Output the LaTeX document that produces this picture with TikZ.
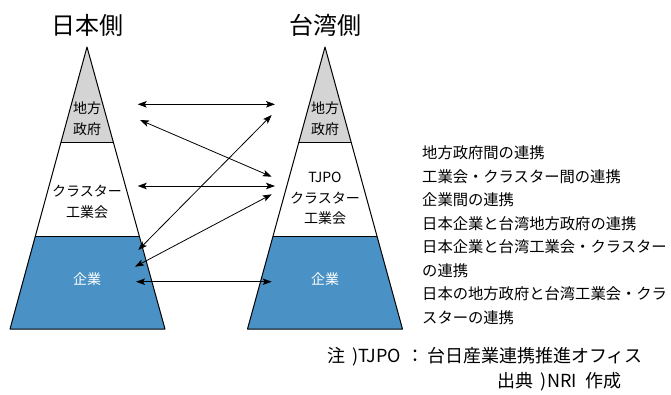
\documentclass[tikz,border=0pt]{standalone}
\usepackage{fontspec}
\setmainfont{Noto Sans CJK JP}
\usetikzlibrary{arrows.meta}
\definecolor{govgray}{RGB}{212,212,212}
\definecolor{firmblue}{RGB}{74,145,197}
\begin{document}
\begin{tikzpicture}[x=1pt,y=-1pt,
  lvl/.style={font=\fontsize{14}{21}\selectfont, align=center, inner sep=0pt},
  ttl/.style={font=\fontsize{24}{28}\selectfont, inner sep=0pt},
  leg/.style={font=\fontsize{15.3}{20}\selectfont, anchor=west, inner sep=0pt},
  note/.style={font=\fontsize{18}{20}\selectfont, anchor=east, inner sep=0pt},
  link/.style={line width=0.8pt, {Stealth[length=9pt,width=6.5pt,inset=2pt]}-{Stealth[length=9pt,width=6.5pt,inset=2pt]}},
  pyredge/.style={line width=1pt, line join=round}]
\useasboundingbox (0,0) rectangle (671,394);

% ---- left pyramid (Japan) ----
\fill[govgray] (87,47) -- (113.1,142) -- (60.9,142) -- cycle;
\fill[white] (60.9,142) -- (113.1,142) -- (138.9,236) -- (35.1,236) -- cycle;
\fill[firmblue] (35.1,236) -- (138.9,236) -- (165,329) -- (10,329) -- cycle;
\draw[pyredge] (87,47) -- (165,329) -- (10,329) -- cycle;
\draw[pyredge] (60.9,142) -- (113.1,142);
\draw[pyredge] (35.1,236) -- (138.9,236);

% ---- right pyramid (Taiwan) ----
\fill[govgray] (325,47) -- (351.1,142) -- (298.9,142) -- cycle;
\fill[white] (298.9,142) -- (351.1,142) -- (376.9,236) -- (273.1,236) -- cycle;
\fill[firmblue] (273.1,236) -- (376.9,236) -- (402.5,329) -- (247.5,329) -- cycle;
\draw[pyredge] (325,47) -- (402.5,329) -- (247.5,329) -- cycle;
\draw[pyredge] (298.9,142) -- (351.1,142);
\draw[pyredge] (273.1,236) -- (376.9,236);

% ---- titles ----
\node[ttl] (tjp) at (87,25) {日本側};
\node[ttl] (ttw) at (325,25) {台湾側};

% ---- level labels ----
\node[lvl] (jgov) at (87,118.5) {地方\\政府};
\node[lvl] (jclu) at (87,202) {クラスター\\工業会};
\node[lvl, text=white] (jfirm) at (87,279) {企業};
\node[lvl] (tgov) at (325,118.5) {地方\\政府};
\node[lvl, font=\fontsize{14}{20.5}\selectfont] (tclu) at (325,198.5) {TJPO\\クラスター\\工業会};
\node[lvl, text=white] (tfirm) at (325,279) {企業};

% ---- arrow end points ----
\coordinate (a1l) at (137.7,104.3);  \coordinate (a1r) at (275,104.3);
\coordinate (a2l) at (140,120);      \coordinate (a2r) at (271.7,176.7);
\coordinate (a3l) at (137.7,186);    \coordinate (a3r) at (275,186);
\coordinate (a4l) at (138.3,250);    \coordinate (a4r) at (271.7,115);
\coordinate (a5l) at (135,266.7);    \coordinate (a5r) at (271.7,194.3);
\coordinate (a6l) at (136,281.7);    \coordinate (a6r) at (271.7,281.7);
\draw[link] (a1l) -- (a1r);
\draw[link] (a2l) -- (a2r);
\draw[link] (a3l) -- (a3r);
\draw[link] (a4l) -- (a4r);
\draw[link] (a5l) -- (a5r);
\draw[link] (a6l) -- (a6r);

% ---- legend ----
\node[leg] (l1) at (422,153) {地方政府間の連携};
\node[leg] (l2) at (422,176.5) {工業会・クラスター間の連携};
\node[leg] (l3) at (422,200) {企業間の連携};
\node[leg] (l4) at (422,223.5) {日本企業と台湾地方政府の連携};
\node[leg] (l5) at (422,247) {日本企業と台湾工業会・クラスター};
\node[leg] (l6) at (422,270.5) {の連携};
\node[leg] (l7) at (422,294) {日本の地方政府と台湾工業会・クラ};
\node[leg] (l8) at (422,317.5) {スターの連携};

% ---- notes ----
\node[note] (n1) at (643,357) {注\hspace{7pt})TJPO\hspace{5pt}：\hspace{3pt}台日産業連携推進オフィス};
\node[note] (n2) at (622,382) {出典\hspace{8pt})NRI\hspace{9pt}作成};
\end{tikzpicture}
\end{document}
